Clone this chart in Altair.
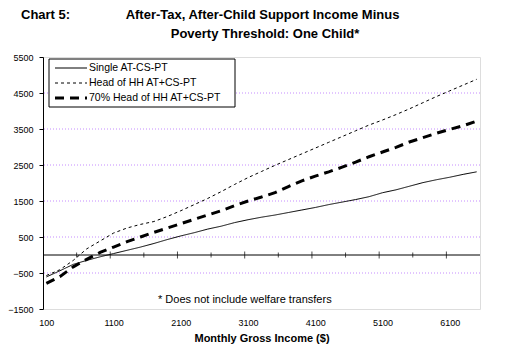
import altair as alt
import pandas as pd

income = [100, 300, 500, 700, 900, 1100, 1300, 1500, 1700, 1900, 2100, 2300, 2500,
          2700, 2900, 3100, 3300, 3500, 3700, 3900, 4100, 4300, 4500, 4700, 4900,
          5100, 5300, 5500, 5700, 5900, 6100, 6300, 6500]
single = [-610, -440, -260, -150, -50, 40, 130, 220, 320, 430, 530, 620, 720,
          800, 900, 980, 1050, 1110, 1180, 1250, 1320, 1400, 1470, 1540, 1620,
          1730, 1810, 1910, 2010, 2090, 2160, 2240, 2310]
head_hh = [-570, -410, -150, 170, 390, 610, 750, 850, 930, 1070, 1230, 1400, 1570,
           1760, 1960, 2150, 2320, 2490, 2650, 2810, 2970, 3130, 3290, 3450, 3610,
           3750, 3900, 4060, 4230, 4400, 4560, 4720, 4880]
head70 = [-790, -600, -330, -120, 70, 220, 370, 500, 630, 750, 870, 990, 1110,
          1230, 1370, 1500, 1610, 1730, 1900, 2060, 2190, 2310, 2440, 2580, 2730,
          2860, 2990, 3140, 3260, 3380, 3490, 3590, 3720]
series_names = ["Single AT-CS-PT", "Head of HH AT+CS-PT", "70% Head of HH AT+CS-PT"]
series_widths = [1, 1, 3]
series_dashes = [[1, 0], [3, 3], [9, 6]]
x_labels = [100, 1100, 2100, 3100, 4100, 5100, 6100]
major_ticks = [1050, 2050, 3050, 4050, 5050, 6050]
minor_ticks = [550, 1550, 2550, 3550, 4550, 5550]
y_ticks = [-1500, -500, 500, 1500, 2500, 3500, 4500, 5500]
grid_vals = [-500, 500, 1500, 2500, 3500, 4500]
title_lines = ["After-Tax, After-Child Support Income Minus", "Poverty Threshold: One Child*"]

FONT = "Liberation Sans"
xscale = alt.Scale(domain=[50, 6550], nice=False, zero=False)
yscale = alt.Scale(domain=[-1500, 5500], nice=False, zero=False)

x_axis = alt.Axis(values=x_labels, format="d", title="Monthly Gross Income ($)", grid=False,
                  ticks=False, tickSize=0, domain=False, labelFontSize=9,
                  labelFont=FONT, labelColor="black", labelPadding=9,
                  titleFont=FONT, titleFontSize=11, titleFontWeight="bold",
                  titleColor="black", titlePadding=5)
y_axis = alt.Axis(values=y_ticks, format="d", title=None, grid=False, domainColor="black",
                  domainWidth=1, tickColor="black", tickSize=4, labelFontSize=9,
                  labelFont=FONT, labelColor="black", labelPadding=6)

grid = alt.Chart(pd.DataFrame({"value": grid_vals})).mark_rule(
    color="#c58cff", strokeDash=[1, 2], strokeWidth=1
).encode(y=alt.Y("value:Q", scale=yscale, axis=y_axis))

zero = alt.Chart(pd.DataFrame({"value": [0]})).mark_rule(color="black", strokeWidth=1).encode(
    y=alt.Y("value:Q", scale=yscale, axis=y_axis))

ticks_major = alt.Chart(pd.DataFrame({"income": major_ticks, "value": 0})).mark_tick(
    color="black", orient="vertical", size=7, thickness=1
).encode(x=alt.X("income:Q", scale=xscale, axis=x_axis),
         y=alt.Y("value:Q", scale=yscale, axis=y_axis))
ticks_minor = alt.Chart(pd.DataFrame({"income": minor_ticks, "value": 0})).mark_tick(
    color="black", orient="vertical", size=5, thickness=1
).encode(x=alt.X("income:Q", scale=xscale, axis=x_axis),
         y=alt.Y("value:Q", scale=yscale, axis=y_axis))

layers = [grid, zero, ticks_minor, ticks_major]
for name, vals, w, d in zip(series_names, [single, head_hh, head70], series_widths, series_dashes):
    sdf = pd.DataFrame({"income": income, "value": vals})
    layers.append(
        alt.Chart(sdf).mark_line(color="black", strokeWidth=w, strokeDash=d).encode(
            x=alt.X("income:Q", scale=xscale, axis=x_axis),
            y=alt.Y("value:Q", scale=yscale, axis=y_axis))
    )

# legend box
one = pd.DataFrame({"a": [0]})
layers.append(alt.Chart(one).mark_rect(fill="white", stroke="black", strokeWidth=1).encode(
    x=alt.value(6), x2=alt.value(192), y=alt.value(2), y2=alt.value(50)))
for i, (name, w, d) in enumerate(zip(series_names, series_widths, series_dashes)):
    yy = 11 + 15 * i
    layers.append(alt.Chart(one).mark_rule(color="black", strokeWidth=w, strokeDash=d).encode(
        x=alt.value(12), x2=alt.value(44), y=alt.value(yy)))
    layers.append(alt.Chart(pd.DataFrame({"t": [name]})).mark_text(
        align="left", baseline="middle", font=FONT, fontSize=10.5, color="black"
    ).encode(text="t:N", x=alt.value(46), y=alt.value(yy)))

# titles
layers.append(alt.Chart(pd.DataFrame({"t": ["Chart 5:"]})).mark_text(
    align="left", baseline="middle", font=FONT, fontSize=13, fontWeight="bold", color="black"
).encode(text="t:N", x=alt.value(-22), y=alt.value(-42)))
for txt, xx, yy in zip(title_lines, [219.5, 222], [-42, -23]):
    layers.append(alt.Chart(pd.DataFrame({"t": [txt]})).mark_text(
        align="center", baseline="middle", font=FONT, fontSize=13, fontWeight="bold",
        color="black"
    ).encode(text="t:N", x=alt.value(xx), y=alt.value(yy)))

layers.append(alt.Chart(pd.DataFrame({"t": ["* Does not include welfare transfers"]})).mark_text(
    align="left", baseline="middle", font=FONT, fontSize=11, color="black"
).encode(text="t:N", x=alt.value(115), y=alt.value(243)))

chart = alt.layer(*layers).properties(
    width=437, height=252,
    autosize=alt.AutoSizeParams(type="none"),
    padding={"left": 43, "top": 57, "right": 40, "bottom": 40},
).configure_view(stroke="#808080", strokeWidth=1).configure(background="white")

chart.save("out.html", embed_options={"renderer": "svg", "actions": False})
